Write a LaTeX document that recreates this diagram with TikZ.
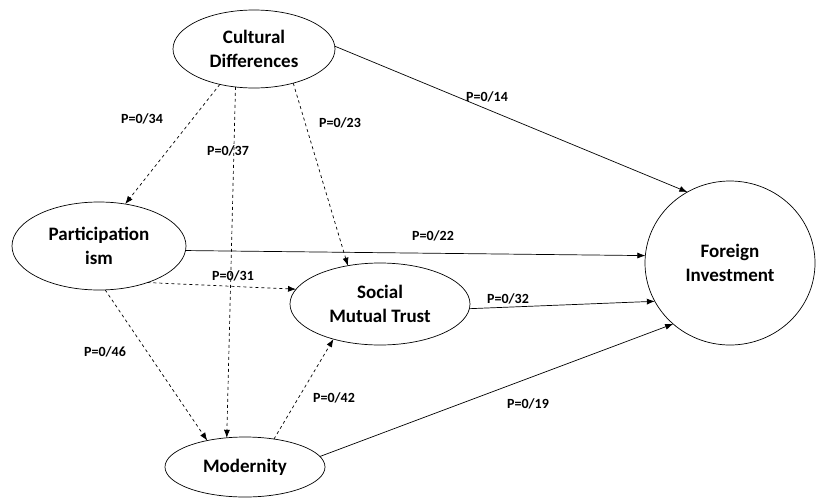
\documentclass[tikz,border=0pt]{standalone}
\usepackage{fontspec}
\setmainfont{Carlito}
\usetikzlibrary{shapes.geometric, arrows.meta}

\tikzset{
  var/.style={draw, ellipse, line width=0.7pt, inner sep=0pt, outer sep=0pt, align=center,
    font=\bfseries\fontsize{19}{24}\selectfont},
  pval/.style={font=\bfseries\fontsize{14}{16}\selectfont, inner sep=1pt},
  dir/.style={line width=0.7pt, -{Latex[length=8pt, width=6pt]}},
  ind/.style={line width=0.7pt, dashed, -{Latex[length=8pt, width=6pt]}}
}

\begin{document}
\begin{tikzpicture}[x=1pt, y=-1pt]
\useasboundingbox (0,0) rectangle (816,498);
% latent variables
\node[var, minimum width=162, minimum height=78] (cult) at (254,49) {Cultural\\Differences};
\node[var, minimum width=174, minimum height=88] (part) at (99,246) {Participation\\ism};
\node[var, minimum width=180, minimum height=82] (trust) at (380,304) {Social\\Mutual Trust};
\node[var, minimum width=160, minimum height=60] (mod) at (245,467) {Modernity};
\node[var, minimum width=170, minimum height=164] (inv) at (730,263) {Foreign\\Investment};

% paths
\draw[dir] (cult.2) -- (inv.121);
\draw[ind] (cult.-134) -- (part.58);
\draw[ind] (cult.-116) -- (mod.122);
\draw[ind] (cult.-41) -- (trust.130);
\draw[dir] (part.-3) -- (inv.175);
\draw[ind] (part.-37) -- (trust.170);
\draw[ind] (part.-82) -- (mod.145);
\draw[dir] (trust.-3) -- (inv.207);
\draw[ind] (mod.44) -- (trust.-143);
\draw[dir] (mod.8) -- (inv.-133);

% coefficients
\node[pval] (p14) at (487,97) {P=0/14};
\node[pval] (p34) at (142,119) {P=0/34};
\node[pval] (p37) at (228,151) {P=0/37};
\node[pval] (p23) at (340,123) {P=0/23};
\node[pval] (p22) at (433,236) {P=0/22};
\node[pval] (p31) at (233,276) {P=0/31};
\node[pval] (p46) at (105,352) {P=0/46};
\node[pval] (p32) at (508,299) {P=0/32};
\node[pval] (p42) at (334,398) {P=0/42};
\node[pval] (p19) at (528,404) {P=0/19};
\end{tikzpicture}
\end{document}
